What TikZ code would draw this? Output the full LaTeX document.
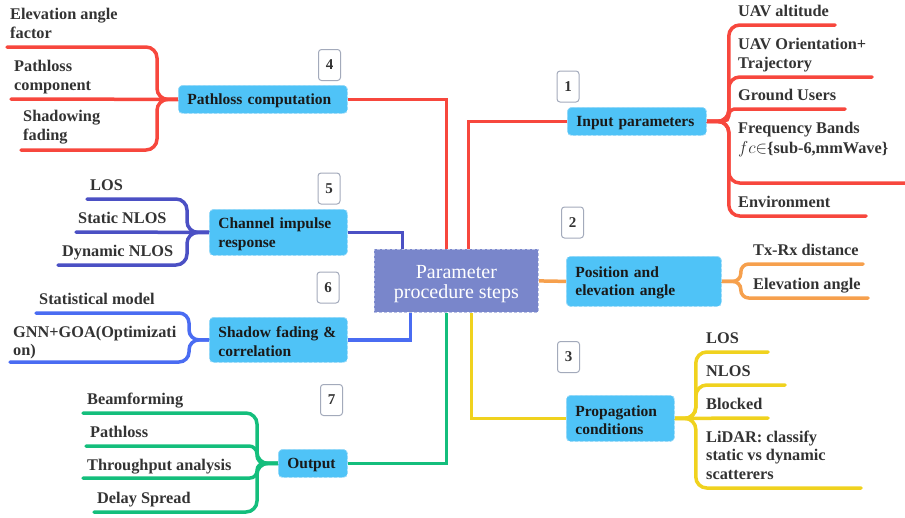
\documentclass[tikz,border=0pt]{standalone}
\usepackage{fontspec}
\setmainfont{Liberation Serif}
\usetikzlibrary{calc}
\definecolor{cred}{HTML}{F7473D}
\definecolor{cind}{HTML}{4B50C4}
\definecolor{cblu}{HTML}{4A6CF2}
\definecolor{cgrn}{HTML}{14BE7C}
\definecolor{cyel}{HTML}{F0D21E}
\definecolor{corg}{HTML}{F6A04D}
\definecolor{boxfill}{HTML}{4FC3F7}
\definecolor{boxline}{HTML}{9ADAF8}
\definecolor{cenfill}{HTML}{7986CB}
\definecolor{cenline}{HTML}{B8C0E6}
\definecolor{badgeline}{HTML}{A3AABB}
\definecolor{txt}{HTML}{333333}
\pgfdeclarelayer{bg}
\pgfsetlayers{bg,main}
\tikzset{
  box/.style={draw=boxline, densely dashed, line width=0.8pt, fill=boxfill, rounded corners=4pt,
    inner xsep=9pt, inner ysep=0pt, align=left, anchor=north west,
    execute at begin node={\rule{0pt}{14pt}},
    font=\fontsize{15.5}{18.5}\selectfont\bfseries, text=black!90},
  cenbox/.style={draw=cenline, densely dashed, line width=0.8pt, fill=cenfill, inner sep=0pt,
    minimum width=164pt, minimum height=63pt, align=center, anchor=north west,
    font=\fontsize{20}{20}\selectfont, text=white},
  badge/.style={draw=badgeline, line width=1pt, fill=white, rounded corners=3pt,
    minimum width=22pt, minimum height=31pt, inner sep=0pt,
    font=\fontsize{15}{15}\selectfont\bfseries, text=txt},
  lab/.style={anchor=base west, inner sep=0pt, align=left,
    font=\fontsize{16.3}{18.5}\selectfont\bfseries, text=txt},
  br/.style={line width=3.5pt, draw=#1, line cap=round},
  cn/.style={line width=3.5pt, draw=#1},
}
\begin{document}
\begin{tikzpicture}[x=1pt,y=-1pt]
\useasboundingbox (0,0) rectangle (905,517);

% ---------- boxes ----------
\node[cenbox] (cen) at (374,249) {\rule{0pt}{20pt}Parameter\\procedure steps};
\node[box, text width=121pt, minimum height=28pt] (inp) at (567,107) {Input parameters};
\node[box, text width=137pt, minimum height=50pt] (pos) at (566,256) {Position and\\elevation angle};
\node[box, text width=90pt, minimum height=46pt] (prop) at (566,395) {Propagation\\conditions};
\node[box, text width=151pt, minimum height=28pt] (pc) at (178,85) {Pathloss computation};
\node[box, text width=120pt, minimum height=46pt] (ch) at (209,209) {Channel impulse\\response};
\node[box, text width=120pt, minimum height=45pt] (sh) at (209,317) {Shadow fading \&\\correlation};
\node[box, text width=51pt, minimum height=28pt] (out) at (278,449) {Output};

% ---------- badges ----------
\node[badge] (b1) at (568,86.5) {1};
\node[badge] (b2) at (572.5,222.5) {2};
\node[badge] (b3) at (568.5,357) {3};
\node[badge] (b4) at (329.5,65) {4};
\node[badge] (b5) at (329,188.5) {5};
\node[badge] (b6) at (328,287.5) {6};
\node[badge] (b7) at (331.5,400) {7};

% ---------- labels (anchored at the baseline of the last line) ----------
\node[lab] (tu1) at (738,16) {UAV altitude};
\node[lab] (tu2) at (738,68) {UAV Orientation+\\Trajectory};
\node[lab] (tu3) at (738,100) {Ground Users};
\node[lab, font=\fontsize{16.3}{20}\selectfont\bfseries] (tu4) at (738,153) {Frequency Bands\\$fc{\in}$\{sub-6,mmWave\}};
\node[lab] (tu5) at (738,207) {Environment};
\node[lab] (tp1) at (753,255) {Tx-Rx distance};
\node[lab] (tp2) at (753,289) {Elevation angle};
\node[lab] (tr1) at (706,343) {LOS};
\node[lab] (tr2) at (706,376) {NLOS};
\node[lab] (tr3) at (706,409) {Blocked};
\node[lab] (tr4) at (706,479) {LiDAR: classify\\static vs dynamic\\scatterers};

\node[lab] (ta1) at (10,38) {Elevation angle\\factor};
\node[lab] (ta2) at (14,90) {Pathloss\\component};
\node[lab] (ta3) at (23,140) {Shadowing\\fading};
\node[lab] (tc1) at (90,190) {LOS};
\node[lab] (tc2) at (78,223) {Static NLOS};
\node[lab] (tc3) at (62,256) {Dynamic NLOS};
\node[lab] (ts1) at (39,304) {Statistical model};
\node[lab, font=\fontsize{16.3}{18}\selectfont\bfseries] (ts2) at (13,355) {GNN+GOA(Optimizati\\on)};
\node[lab] (to1) at (87,404) {Beamforming};
\node[lab] (to2) at (90,437) {Pathloss};
\node[lab] (to3) at (87,470) {Throughput analysis};
\node[lab] (to4) at (97,503) {Delay Spread};

% ---------- underline ends ----------
\coordinate (u1) at (835,25);
\coordinate (u2) at (872,77);
\coordinate (u3) at (845,109);
\coordinate (u4) at (905,183);
\coordinate (u5) at (866,216);
\coordinate (p1) at (863,264);
\coordinate (p2) at (868,298);
\coordinate (r1) at (768,352);
\coordinate (r2) at (785,385);
\coordinate (r3) at (768,418);
\coordinate (r4) at (861,488);
\coordinate (a1) at (7,47);
\coordinate (a2) at (11,99);
\coordinate (a3) at (21,150);
\coordinate (c1) at (87,199);
\coordinate (c2) at (76,232);
\coordinate (c3) at (58,265);
\coordinate (s1) at (36,313);
\coordinate (s2) at (10,362);
\coordinate (o1) at (83,413);
\coordinate (o2) at (86,446);
\coordinate (o3) at (83,478);
\coordinate (o4) at (94,512);

\begin{pgfonlayer}{bg}
% connectors to centre
\draw[cn=cred] (inp.west) -| ([xshift=12pt]cen.north);
\draw[cn=cred] (pc.east) -| ([xshift=-10pt]cen.north);
\draw[cn=cind] (ch.east) -| ([xshift=-54pt]cen.north);
\draw[cn=cblu] (sh.east) -| ([xshift=-46pt]cen.south);
\draw[cn=cgrn] (out.east) -| ([xshift=-10pt]cen.south);
\draw[cn=cyel] (prop.west) -| ([xshift=15pt]cen.south);
\draw[cn=corg] (cen.east) -- (pos.west);

% input parameters
\draw[br=cred, rounded corners=11pt] (inp.east) -- ++(22,0) |- (u1);
\draw[br=cred, rounded corners=11pt] (inp.east) -- ++(22,0) |- (u2);
\draw[br=cred, rounded corners=5.5pt] (inp.east) -- ++(22,0) |- (u3);
\draw[br=cred, rounded corners=11pt] (inp.east) -- ++(22,0) |- (u4);
\draw[br=cred, rounded corners=11pt] (inp.east) -- ++(22,0) |- (u5);
% position
\draw[br=corg, rounded corners=8pt] (pos.east) -- ++(19,0) |- (p1);
\draw[br=corg, rounded corners=8pt] (pos.east) -- ++(19,0) |- (p2);
% propagation
\draw[br=cyel, rounded corners=11pt] (prop.east) -- ++(21,0) |- (r1);
\draw[br=cyel, rounded corners=11pt] (prop.east) -- ++(21,0) |- (r2);
\draw[br=cyel] (prop.east) -- (r3);
\draw[br=cyel, rounded corners=11pt] (prop.east) -- ++(21,0) |- (r4);
% pathloss
\draw[br=cred, rounded corners=11pt] (pc.west) -- ++(-21,0) |- (a1);
\draw[br=cred] (pc.west) -- (a2);
\draw[br=cred, rounded corners=11pt] (pc.west) -- ++(-21,0) |- (a3);
% channel
\draw[br=cind, rounded corners=11pt] (ch.west) -- ++(-22,0) |- (c1);
\draw[br=cind] (ch.west) -- (c2);
\draw[br=cind, rounded corners=11pt] (ch.west) -- ++(-22,0) |- (c3);
% shadow
\draw[br=cblu, rounded corners=10pt] (sh.west) -- ++(-20,0) |- (s1);
\draw[br=cblu, rounded corners=10pt] (sh.west) -- ++(-20,0) |- (s2);
% output
\draw[br=cgrn, rounded corners=11pt] (out.west) -- ++(-21,0) |- (o1);
\draw[br=cgrn, rounded corners=8pt] (out.west) -- ++(-21,0) |- (o2);
\draw[br=cgrn, rounded corners=7pt] (out.west) -- ++(-21,0) |- (o3);
\draw[br=cgrn, rounded corners=11pt] (out.west) -- ++(-21,0) |- (o4);
\end{pgfonlayer}
\end{tikzpicture}
\end{document}
